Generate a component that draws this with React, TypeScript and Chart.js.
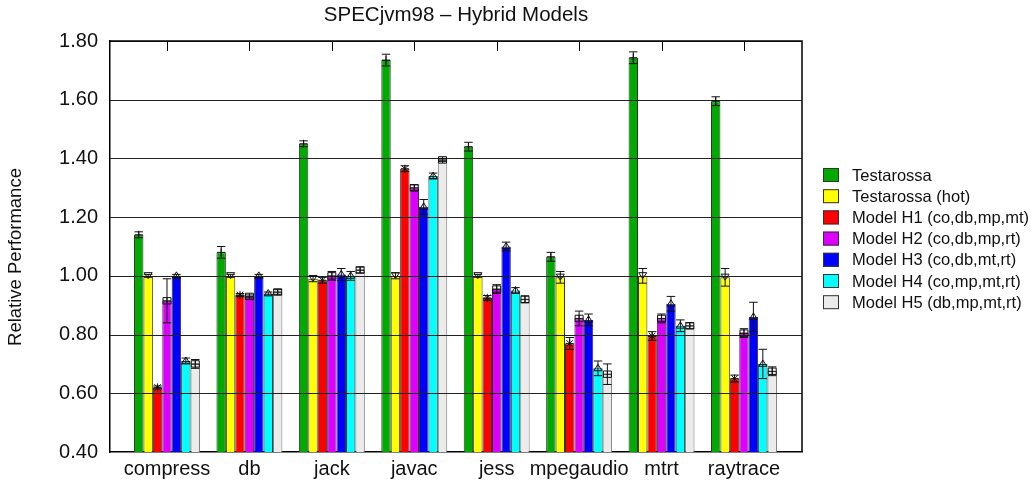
import React, { useEffect, useRef } from 'react';
import { Chart, registerables } from 'chart.js';

Chart.register(...registerables);

const categories = ['compress', 'db', 'jack', 'javac', 'jess', 'mpegaudio', 'mtrt', 'raytrace'];
const seriesNames = [
  'Testarossa',
  'Testarossa (hot)',
  'Model H1 (co,db,mp,mt)',
  'Model H2 (co,db,mp,rt)',
  'Model H3 (co,db,mt,rt)',
  'Model H4 (co,mp,mt,rt)',
  'Model H5 (db,mp,mt,rt)',
];

const testarossa = [1.14, 1.08, 1.45, 1.735, 1.44, 1.065, 1.743, 1.595];
const testarossaErr = [0.01, 0.02, 0.01, 0.02, 0.015, 0.015, 0.02, 0.015];
const testarossaHot = [1.0, 1.0, 0.99, 1.0, 1.0, 0.995, 1.0, 0.995];
const testarossaHotErr = [0.005, 0.005, 0.01, 0.01, 0.005, 0.02, 0.025, 0.03];
const modelH1 = [0.62, 0.935, 0.985, 1.365, 0.925, 0.77, 0.795, 0.65];
const modelH1Err = [0.005, 0.005, 0.01, 0.01, 0.008, 0.02, 0.015, 0.012];
const modelH2 = [0.915, 0.93, 1.0, 1.3, 0.955, 0.855, 0.855, 0.805];
const modelH2Err = [0.075, 0.005, 0.015, 0.01, 0.015, 0.025, 0.015, 0.015];
const modelH3 = [1.0, 1.0, 1.005, 1.235, 1.1, 0.85, 0.905, 0.86];
const modelH3Err = [0.005, 0.005, 0.02, 0.025, 0.015, 0.02, 0.025, 0.05];
const modelH4 = [0.71, 0.94, 1.0, 1.34, 0.95, 0.685, 0.83, 0.7];
const modelH4Err = [0.01, 0.005, 0.015, 0.01, 0.01, 0.025, 0.02, 0.05];
const modelH5 = [0.7, 0.945, 1.02, 1.395, 0.92, 0.665, 0.83, 0.675];
const modelH5Err = [0.015, 0.008, 0.01, 0.005, 0.012, 0.035, 0.01, 0.015];

const yTickValues = [0.4, 0.6, 0.8, 1.0, 1.2, 1.4, 1.6, 1.8];

const seriesValues = [testarossa, testarossaHot, modelH1, modelH2, modelH3, modelH4, modelH5];
const seriesErrors = [testarossaErr, testarossaHotErr, modelH1Err, modelH2Err, modelH3Err, modelH4Err, modelH5Err];
const seriesColors = ['#00aa00', '#ffff00', '#ff0000', '#dd00ff', '#0000ff', '#00ffff', '#ebebeb'];
const seriesBorders = ['#333333', '#333333', '#333333', '#333333', '#333333', '#333333', '#777777'];
const seriesMarkers = ['plus', 'downTriangle', 'star', 'boxPlus', 'triangle', 'triangle', 'boxPlus'];

const FONT = '"Liberation Sans", Arial, sans-serif';

function drawMarker(ctx: CanvasRenderingContext2D, kind: string, x: number, y: number, s: number) {
  ctx.beginPath();
  if (kind === 'plus') {
    ctx.moveTo(x - s, y); ctx.lineTo(x + s, y);
    ctx.moveTo(x, y - s); ctx.lineTo(x, y + s);
  } else if (kind === 'downTriangle') {
    ctx.moveTo(x - s, y - s * 0.8); ctx.lineTo(x + s, y - s * 0.8); ctx.lineTo(x, y + s * 0.7); ctx.closePath();
  } else if (kind === 'star') {
    ctx.moveTo(x - s, y); ctx.lineTo(x + s, y);
    ctx.moveTo(x, y - s); ctx.lineTo(x, y + s);
    ctx.moveTo(x - s * 0.8, y - s * 0.8); ctx.lineTo(x + s * 0.8, y + s * 0.8);
    ctx.moveTo(x - s * 0.8, y + s * 0.8); ctx.lineTo(x + s * 0.8, y - s * 0.8);
  } else if (kind === 'boxPlus') {
    ctx.rect(x - s, y - s * 0.8, 2 * s, s * 1.6);
    ctx.moveTo(x - s, y); ctx.lineTo(x + s, y);
    ctx.moveTo(x, y - s * 0.8); ctx.lineTo(x, y + s * 0.8);
  } else {
    ctx.moveTo(x - s, y + s * 0.6); ctx.lineTo(x + s, y + s * 0.6); ctx.lineTo(x, y - s); ctx.closePath();
  }
  ctx.stroke();
}

const overlayPlugin = {
  id: 'overlay',
  afterDatasetsDraw(chart: any) {
    const { ctx, chartArea, scales } = chart;
    const y = scales.y;
    ctx.save();
    ctx.strokeStyle = '#222';
    ctx.lineWidth = 1;
    yTickValues.forEach((v) => {
      if (v === yTickValues[0]) return;
      const py = Math.round(y.getPixelForValue(v)) + 0.5;
      ctx.beginPath();
      ctx.moveTo(chartArea.left, py);
      ctx.lineTo(chartArea.right, py);
      ctx.stroke();
    });
    ctx.beginPath();
    ctx.rect(chartArea.left, chartArea.top - 30, chartArea.right - chartArea.left, chartArea.bottom - chartArea.top + 30);
    ctx.clip();
    chart.data.datasets.forEach((ds: any, di: number) => {
      const meta = chart.getDatasetMeta(di);
      meta.data.forEach((el: any, i: number) => {
        const v = seriesValues[di][i];
        const e = seriesErrors[di][i];
        const x = el.x;
        const yHi = y.getPixelForValue(v + e);
        const yLo = y.getPixelForValue(v - e);
        const w = el.width * 0.45;
        ctx.strokeStyle = '#111';
        ctx.lineWidth = 1;
        ctx.beginPath();
        ctx.moveTo(x, yHi); ctx.lineTo(x, yLo);
        ctx.moveTo(x - w, yHi); ctx.lineTo(x + w, yHi);
        ctx.moveTo(x - w, yLo); ctx.lineTo(x + w, yLo);
        ctx.stroke();
        drawMarker(ctx, seriesMarkers[di], x, el.y, 4);
      });
    });
    ctx.restore();
  },
  afterDraw(chart: any) {
    const { ctx, chartArea, scales } = chart;
    const x = scales.x;
    ctx.save();
    ctx.strokeStyle = '#000';
    ctx.lineWidth = 1.5;
    ctx.beginPath();
    ctx.moveTo(chartArea.left, chartArea.top);
    ctx.lineTo(chartArea.right, chartArea.top);
    ctx.lineTo(chartArea.right, chartArea.bottom);
    ctx.stroke();
    ctx.lineWidth = 1;
    categories.forEach((_, i) => {
      const px = Math.round(x.getPixelForValue(i)) + 0.5;
      ctx.beginPath();
      ctx.moveTo(px, chartArea.top);
      ctx.lineTo(px, chartArea.top + 10);
      ctx.stroke();
    });
    ctx.fillStyle = '#111';
    ctx.font = `20.5px ${FONT}`;
    ctx.textAlign = 'center';
    ctx.textBaseline = 'middle';
    ctx.fillText('SPECjvm98 \u2013 Hybrid Models', (chartArea.left + chartArea.right) / 2, 15);
    ctx.save();
    ctx.translate(16, 257);
    ctx.rotate(-Math.PI / 2);
    ctx.font = `18.5px ${FONT}`;
    ctx.fillText('Relative Performance', 0, 0);
    ctx.restore();
    ctx.font = `16.5px ${FONT}`;
    ctx.textAlign = 'left';
    seriesNames.forEach((name, i) => {
      const cy = 175 + i * 21.2;
      ctx.fillStyle = seriesColors[i];
      ctx.fillRect(823, cy - 7, 16, 14);
      ctx.strokeStyle = '#333';
      ctx.lineWidth = 1;
      ctx.strokeRect(823.5, cy - 6.5, 15, 13);
      ctx.fillStyle = '#111';
      ctx.fillText(name, 852, cy + 1);
    });
    ctx.restore();
  },
};

export default function App() {
  const canvasRef = useRef<HTMLCanvasElement | null>(null);

  useEffect(() => {
    if (!canvasRef.current) return;
    const datasets = seriesNames.map((name, si) => ({
      label: name,
      data: seriesValues[si].map((v, i) => ({ x: i, y: v })),
      backgroundColor: seriesColors[si],
      borderColor: seriesBorders[si],
      borderWidth: 1,
      categoryPercentage: 0.8,
      barPercentage: 1.0,
    }));
    const chart = new Chart(canvasRef.current, {
      type: 'bar',
      data: { datasets },
      options: {
        animation: false,
        responsive: true,
        maintainAspectRatio: false,
        layout: { padding: { top: 41, right: 230, left: 0, bottom: 0 } },
        plugins: {
          legend: { display: false },
          title: { display: false },
          tooltip: { enabled: false },
        },
        scales: {
          x: {
            type: 'linear',
            offset: false,
            min: -0.6915,
            max: 7.704,
            afterBuildTicks: (scale: any) => {
              scale.ticks = categories.map((_, i) => ({ value: i }));
            },
            afterFit: (scale: any) => {
              scale.height = 35;
            },
            ticks: {
              autoSkip: false,
              maxRotation: 0,
              minRotation: 0,
              padding: 5,
              color: '#111',
              font: { family: FONT, size: 20 },
              callback: (v: any) => categories[Math.round(Number(v))] ?? '',
            },
            grid: { display: false, drawTicks: false },
            border: { display: true, color: '#000', width: 1.5 },
          },
          y: {
            min: 0.4,
            max: 1.8,
            afterBuildTicks: (scale: any) => {
              scale.ticks = yTickValues.map((v) => ({ value: v }));
            },
            afterFit: (scale: any) => {
              scale.width = 110;
            },
            ticks: {
              padding: 12,
              color: '#111',
              font: { family: FONT, size: 20 },
              callback: (v: any) => Number(v).toFixed(2),
            },
            grid: { display: false, drawTicks: false },
            border: { display: true, color: '#000', width: 1.5 },
          },
        },
      },
      plugins: [overlayPlugin],
    } as any);
    return () => chart.destroy();
  }, []);

  return (
    <div style={{ position: 'fixed', left: 0, top: 0, width: 1032, height: 487, background: '#fff' }}>
      <canvas ref={canvasRef} />
    </div>
  );
}
